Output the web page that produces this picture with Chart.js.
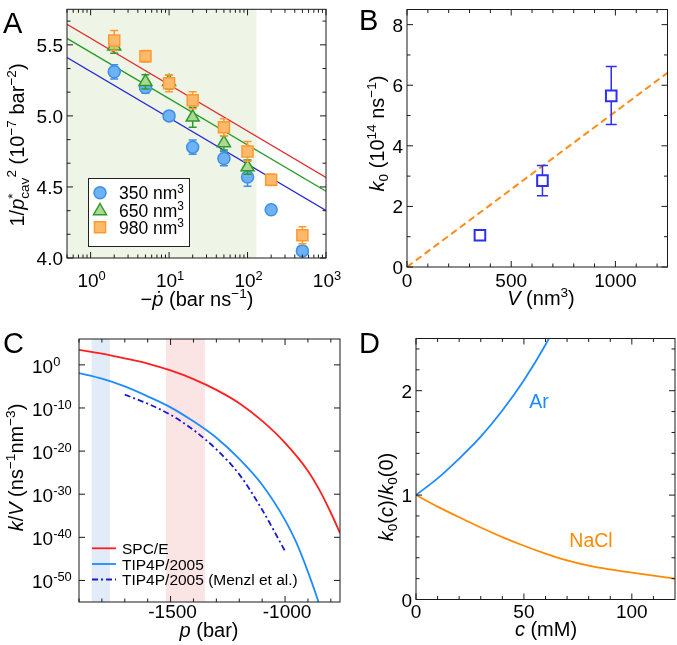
<!DOCTYPE html>
<html>
<head>
<meta charset="utf-8">
<script src="https://cdn.jsdelivr.net/npm/chart.js@4.4.1/dist/chart.umd.min.js"></script>
<style>
  html, body { margin: 0; padding: 0; background: #fff; }
  #wrap { position: relative; width: 677px; height: 645px; overflow: hidden; }
  canvas { position: absolute; left: 0; top: 0; }
</style>
</head>
<body>
<div id="wrap">
  <canvas id="chart-a" width="677" height="645"></canvas>
  <canvas id="chart-b" width="677" height="645"></canvas>
  <canvas id="chart-c" width="677" height="645"></canvas>
  <canvas id="chart-d" width="677" height="645"></canvas>
</div>
<script>
// ---- panel A: 1/p*^2 vs rate ----
const rateAll = [2, 5, 10, 20, 50, 100, 200, 500];
const rate650 = [2, 5, 10, 20, 50, 100];
const inv350 = [5.31, 5.20, 5.00, 4.78, 4.70, 4.57, 4.34, 4.05];
const err350 = [0.05, 0.04, 0.02, 0.05, 0.05, 0.065, 0.03, 0.03];
const inv650 = [5.49, 5.24, 5.24, 4.99, 4.81, 4.64];
const err650 = [0.05, 0.05, 0.05, 0.07, 0.05, 0.05];
const inv980 = [5.53, 5.42, 5.23, 5.11, 4.92, 4.75, 4.55, 4.16];
const err980 = [0.07, 0.04, 0.06, 0.06, 0.06, 0.07, 0.04, 0.06];
const fitRate = [0.5, 1000];
const fit350 = [5.41, 4.335];
const fit650 = [5.545, 4.47];
const fit980 = [5.645, 4.566];
const shadeRate = [0.5, 130];
const aXTicks = [1, 10, 100, 1000];
const aYTicks = [4.0, 4.5, 5.0, 5.5];
const aLegend = ['350 nm', '650 nm', '980 nm'];

// ---- panel B: k0 vs V ----
const volume = [350, 650, 980];
const k0 = [1.05, 2.85, 5.65];
const k0Lo = [0.9, 2.35, 4.7];
const k0Hi = [1.2, 3.35, 6.62];
const fitVol = [0, 1250];
const fitK0 = [0, 6.41];
const bXTicks = [0, 500, 1000];
const bYTicks = [0, 2, 4, 6, 8];

// ---- panel C: k/V vs p (given as log10 of k/V) ----
const spceP = [-1900, -1800, -1700, -1600, -1500, -1400, -1300, -1200, -1100, -1000, -900, -850, -800, -760];
const spceLog = [3.5, 2.6, 1.5, 0.3, -1.3, -3.3, -5.8, -8.9, -13.0, -18.1, -24.6, -29.0, -34.3, -39.0];
const tipP = [-1900, -1800, -1700, -1600, -1500, -1400, -1300, -1200, -1100, -1000, -950, -900, -860, -845];
const tipLog = [-1.9, -3.2, -5.0, -7.3, -9.85, -13.1, -16.9, -21.8, -27.8, -36.0, -41.3, -48.0, -54.0, -56.5];
const menzlP = [-1700, -1600, -1500, -1400, -1300, -1200, -1100, -1000];
const menzlLog = [-6.9, -9.0, -11.6, -15.1, -19.6, -25.4, -33.6, -43.2];
const blueBand = [-1845, -1765];
const pinkBand = [-1520, -1350];
const cXTicks = [-1500, -1000];
const cYExp = [0, -10, -20, -30, -40, -50];
const cLegend = ['SPC/E', 'TIP4P/2005', 'TIP4P/2005 (Menzl et al.)'];

// ---- panel D: k0(c)/k0(0) vs c ----
const arC = [0, 10, 20, 30, 40, 50, 60, 65];
const arK = [1.0, 1.16, 1.35, 1.56, 1.81, 2.1, 2.44, 2.64];
const naclC = [0, 10, 20, 30, 40, 50, 60, 70, 80, 90, 100, 110, 120];
const naclK = [1.0, 0.89, 0.788, 0.69, 0.598, 0.515, 0.44, 0.375, 0.325, 0.288, 0.257, 0.228, 0.2];
const dXTicks = [0, 50, 100];
const dYTicks = [0, 1, 2];

const FONT = '"Liberation Sans", Arial, Helvetica, sans-serif';
const TICK = 19;
const TITLE = 20;

const pts = (xs, ys) => xs.map((x, i) => ({ x, y: ys[i] }));
const N = t => ({ t });
const I = t => ({ t, i: true });
const SUP = t => ({ t, sup: true });
const SUB = t => ({ t, sub: true });
const STACK = (up, dn) => ({ up, dn });

function fontFor(g, size) {
  const small = g.sup || g.sub || g.up !== undefined;
  return (g.i ? 'italic ' : '') + (small ? size * 0.68 : size) + 'px ' + FONT;
}

function segW(ctx, g, size) {
  ctx.font = fontFor(g, size);
  if (g.up !== undefined) return Math.max(ctx.measureText(g.up).width, ctx.measureText(g.dn).width);
  return ctx.measureText(g.t).width;
}

// draws text made of normal / italic / super / subscript parts
function rich(ctx, segs, x, y, size, align = 'left', color = '#000', rot = 0) {
  ctx.save();
  ctx.translate(x, y);
  if (rot) ctx.rotate(rot);
  const w = segs.reduce((s, g) => s + segW(ctx, g, size), 0);
  let cx = align === 'center' ? -w / 2 : align === 'right' ? -w : 0;
  ctx.fillStyle = color;
  ctx.textAlign = 'left';
  ctx.textBaseline = 'alphabetic';
  segs.forEach(g => {
    const gw = segW(ctx, g, size);
    if (g.up !== undefined) {
      ctx.fillText(g.up, cx, -size * 0.36);
      ctx.fillText(g.dn, cx, size * 0.24);
    } else {
      const dy = g.sup ? -size * 0.38 : g.sub ? size * 0.22 : 0;
      ctx.fillText(g.t, cx, dy);
    }
    cx += gw;
  });
  ctx.restore();
}

function letter(ctx, t, x, y) {
  ctx.save();
  ctx.font = '29px ' + FONT;
  ctx.fillStyle = '#000';
  ctx.fillText(t, x, y);
  ctx.restore();
}

function frame(chart, t) {
  const { ctx, chartArea: a, scales: { x, y } } = chart;
  ctx.save();
  ctx.strokeStyle = '#1a1a1a';
  ctx.lineWidth = 1;
  ctx.beginPath();
  const tx = (vals, len) => vals.forEach(v => {
    const px = x.getPixelForValue(v);
    if (px < a.left - 0.5 || px > a.right + 0.5) return;
    ctx.moveTo(px, a.bottom); ctx.lineTo(px, a.bottom - len);
    ctx.moveTo(px, a.top); ctx.lineTo(px, a.top + len);
  });
  const ty = (vals, len) => vals.forEach(v => {
    const py = y.getPixelForValue(v);
    if (py < a.top - 0.5 || py > a.bottom + 0.5) return;
    ctx.moveTo(a.left, py); ctx.lineTo(a.left + len, py);
    ctx.moveTo(a.right, py); ctx.lineTo(a.right - len, py);
  });
  tx(t.xMajor, 6); tx(t.xMinor, 3.5);
  ty(t.yMajor, 6); ty(t.yMinor, 3.5);
  ctx.stroke();
  ctx.strokeRect(a.left, a.top, a.right - a.left, a.bottom - a.top);
  ctx.restore();
}

function panelPlugin(opts) {
  return {
    id: 'panel',
    beforeDatasetsDraw(chart) {
      const { ctx, chartArea: a, scales: { x } } = chart;
      (opts.bands || []).forEach(b => {
        const x1 = Math.max(a.left, x.getPixelForValue(b.range[0]));
        const x2 = Math.min(a.right, x.getPixelForValue(b.range[1]));
        ctx.save();
        ctx.fillStyle = b.color;
        ctx.fillRect(x1, a.top, x2 - x1, a.bottom - a.top);
        ctx.restore();
      });
    },
    beforeDatasetDraw(chart, args) {
      const ds = chart.data.datasets[args.index];
      if (!ds.err) return;
      const { ctx } = chart;
      const y = chart.scales.y;
      const cap = ds.cap || 4;
      ctx.save();
      ctx.strokeStyle = ds.borderColor;
      ctx.lineWidth = 1.5;
      ctx.beginPath();
      args.meta.data.forEach((p, i) => {
        const y1 = y.getPixelForValue(ds.err.lo[i]);
        const y2 = y.getPixelForValue(ds.err.hi[i]);
        ctx.moveTo(p.x, y1); ctx.lineTo(p.x, y2);
        ctx.moveTo(p.x - cap, y1); ctx.lineTo(p.x + cap, y1);
        ctx.moveTo(p.x - cap, y2); ctx.lineTo(p.x + cap, y2);
      });
      ctx.stroke();
      ctx.restore();
    },
    afterDatasetsDraw(chart) {
      frame(chart, opts.ticks);
    },
    afterDraw(chart) {
      opts.labels(chart);
    }
  };
}

function baseOptions(pad, xScale, yScale) {
  return {
    responsive: false,
    animation: false,
    events: [],
    layout: { padding: pad },
    plugins: { legend: { display: false }, tooltip: { enabled: false } },
    scales: { x: Object.assign({ display: false }, xScale), y: Object.assign({ display: false }, yScale) }
  };
}

const sym = (v, e) => ({ lo: v.map((d, i) => d - e[i]), hi: v.map((d, i) => d + e[i]) });
const lineDs = (xs, ys, color, width, extra) => Object.assign({
  data: pts(xs, ys), showLine: true, pointRadius: 0, pointHoverRadius: 0,
  borderColor: color, borderWidth: width, fill: false
}, extra || {});

const minorRange = (from, to, step, skip) => {
  const out = [];
  for (let v = from; v <= to + 1e-9; v += step) {
    const r = Math.round(v * 1000) / 1000;
    if (!skip.some(s => Math.abs(s - r) < 1e-9)) out.push(r);
  }
  return out;
};

// ---------- A ----------
const aXMinor = [];
for (let e = -1; e <= 2; e++) {
  for (let m = 2; m <= 9; m++) {
    const v = m * Math.pow(10, e);
    if (v >= 0.5 && v <= 1000) aXMinor.push(v);
  }
}
const blueA = '#3f8fe6', greenA = '#2e9a2e', orangeA = '#ff9a33';

function drawMarker(ctx, style, x, y, r, fill, stroke) {
  ctx.save();
  ctx.fillStyle = fill;
  ctx.strokeStyle = stroke;
  ctx.lineWidth = 1.5;
  ctx.beginPath();
  if (style === 'circle') ctx.arc(x, y, r, 0, Math.PI * 2);
  else if (style === 'triangle') {
    ctx.moveTo(x, y - r);
    ctx.lineTo(x + r * 0.866, y + r / 2);
    ctx.lineTo(x - r * 0.866, y + r / 2);
    ctx.closePath();
  } else {
    const s = r * Math.SQRT1_2;
    ctx.rect(x - s, y - s, 2 * s, 2 * s);
  }
  ctx.fill();
  ctx.stroke();
  ctx.restore();
}

new Chart(document.getElementById('chart-a'), {
  type: 'scatter',
  data: {
    datasets: [
      { data: pts(rateAll, inv980), pointStyle: 'rect', pointRadius: 7.8, backgroundColor: '#ffb96b', borderColor: orangeA, borderWidth: 1.5, err: sym(inv980, err980), cap: 4, clip: false },
      { data: pts(rate650, inv650), pointStyle: 'triangle', pointRadius: 7.5, backgroundColor: '#abd98f', borderColor: greenA, borderWidth: 1.5, err: sym(inv650, err650), cap: 4, clip: false },
      { data: pts(rateAll, inv350), pointStyle: 'circle', pointRadius: 6, backgroundColor: '#6db2f5', borderColor: blueA, borderWidth: 1.5, err: sym(inv350, err350), cap: 4, clip: false },
      lineDs(fitRate, fit980, '#e02a2a', 1.3),
      lineDs(fitRate, fit650, '#2a9a2a', 1.3),
      lineDs(fitRate, fit350, '#2424d8', 1.3)
    ]
  },
  options: baseOptions({ left: 67, top: 1, right: 351, bottom: 387 },
    { type: 'logarithmic', min: 0.5, max: 1000 },
    { type: 'linear', min: 4, max: 5.75 }),
  plugins: [panelPlugin({
    bands: [{ range: shadeRate, color: '#eef5e7' }],
    ticks: { xMajor: aXTicks, xMinor: aXMinor, yMajor: aYTicks, yMinor: minorRange(4, 5.75, 0.5 / 3, aYTicks) },
    labels(chart) {
      const { ctx, scales: { x, y } } = chart;
      aYTicks.forEach(v => rich(ctx, [N(v.toFixed(1))], 63, y.getPixelForValue(v) + 7, TICK, 'right'));
      aXTicks.forEach(v => rich(ctx, [N('10'), SUP(String(Math.round(Math.log10(v))))], x.getPixelForValue(v) + 1, 287, TICK, 'center'));
      rich(ctx, [N('−'), I('ṗ'), N(' (bar ns'), SUP('−1'), N(')')], 197, 306, TITLE, 'center');
      rich(ctx, [N('1/'), I('p'), STACK('*', 'cav'), SUP('2'), N(' (10'), SUP('−7'), N(' bar'), SUP('−2'), N(')')],
        24, 145, TITLE, 'center', '#000', -Math.PI / 2);
      letter(ctx, 'A', 3, 33);
      // legend box
      ctx.save();
      ctx.fillStyle = '#fff';
      ctx.strokeStyle = '#222';
      ctx.lineWidth = 1;
      ctx.fillRect(88, 178, 101, 68);
      ctx.strokeRect(88.5, 178.5, 101, 68);
      ctx.restore();
      const rows = [192.7, 210, 227.3];
      drawMarker(ctx, 'circle', 100, rows[0], 6, '#6db2f5', blueA);
      drawMarker(ctx, 'triangle', 100, rows[1] + 1, 7.5, '#abd98f', greenA);
      drawMarker(ctx, 'rect', 100, rows[2], 7.8, '#ffb96b', orangeA);
      aLegend.forEach((t, i) => rich(ctx, [N(t), SUP('3')], 119, rows[i] + 6.5, 17.5));
    }
  })]
});

// ---------- B ----------
const blueB = '#2f2ff2';
new Chart(document.getElementById('chart-b'), {
  type: 'scatter',
  data: {
    datasets: [
      { data: pts(volume, k0), pointStyle: 'rect', pointRadius: 7.5, backgroundColor: '#fff', borderColor: blueB, borderWidth: 2, err: { lo: k0Lo, hi: k0Hi }, cap: 5.5, clip: false },
      lineDs(fitVol, fitK0, '#ff8c1a', 2, { borderDash: [7, 4] })
    ]
  },
  options: baseOptions({ left: 407, top: 1, right: 2, bottom: 378 },
    { type: 'linear', min: 0, max: 1250 },
    { type: 'linear', min: 0, max: 8.5 }),
  plugins: [panelPlugin({
    ticks: { xMajor: bXTicks, xMinor: minorRange(0, 1200, 100, bXTicks), yMajor: bYTicks, yMinor: minorRange(1, 7, 2, []) },
    labels(chart) {
      const { ctx, scales: { x, y } } = chart;
      bYTicks.forEach(v => rich(ctx, [N(String(v))], 403, y.getPixelForValue(v) + 7, TICK, 'right'));
      bXTicks.forEach(v => rich(ctx, [N(String(v))], x.getPixelForValue(v), 287, TICK, 'center'));
      rich(ctx, [I('V'), N(' (nm'), SUP('3'), N(')')], 541, 305, TITLE, 'center');
      rich(ctx, [I('k'), SUB('0'), N(' (10'), SUP('14'), N(' ns'), SUP('−1'), N(')')],
        384, 133.5, TITLE, 'center', '#000', -Math.PI / 2);
      letter(ctx, 'B', 359, 30);
    }
  })]
});

// ---------- C ----------
const redC = '#ff1f1f', blueC = '#1e8cff', navyC = '#1818d2';
const pow10 = arr => arr.map(e => Math.pow(10, e));
new Chart(document.getElementById('chart-c'), {
  type: 'scatter',
  data: {
    datasets: [
      lineDs(spceP, pow10(spceLog), redC, 1.8, { cubicInterpolationMode: 'monotone' }),
      lineDs(tipP, pow10(tipLog), blueC, 1.8, { cubicInterpolationMode: 'monotone' }),
      lineDs(menzlP, pow10(menzlLog), navyC, 1.8, { cubicInterpolationMode: 'monotone', borderDash: [6, 3, 2, 3] })
    ]
  },
  options: baseOptions({ left: 79, top: 339, right: 337, bottom: 43 },
    { type: 'linear', min: -1900, max: -760 },
    { type: 'logarithmic', min: 1e-55, max: 1e6 }),
  plugins: [panelPlugin({
    bands: [{ range: blueBand, color: '#e2ecf8' }, { range: pinkBand, color: '#fbe4e4' }],
    ticks: { xMajor: cXTicks, xMinor: minorRange(-1900, -800, 100, cXTicks), yMajor: pow10(cYExp), yMinor: [] },
    labels(chart) {
      const { ctx, scales: { x, y } } = chart;
      cYExp.forEach(e => rich(ctx, [N('10'), SUP(String(e))], 32, y.getPixelForValue(Math.pow(10, e)) + 8, TICK));
      cXTicks.forEach(v => rich(ctx, [N(String(v))], x.getPixelForValue(v) + 2, 618, TICK, 'center'));
      rich(ctx, [I('p'), N(' (bar)')], 209, 637, TITLE, 'center');
      rich(ctx, [I('k'), N('/'), I('V'), N(' (ns'), SUP('−1'), N('nm'), SUP('−3'), N(')')],
        23, 467.5, TITLE, 'center', '#000', -Math.PI / 2);
      letter(ctx, 'C', 3, 353);
      const rows = [548.3, 564, 579.5];
      const cols = [redC, blueC, navyC];
      rows.forEach((ry, i) => {
        ctx.save();
        ctx.strokeStyle = cols[i];
        ctx.lineWidth = 1.8;
        if (i === 2) ctx.setLineDash([6, 3, 2, 3]);
        ctx.beginPath();
        ctx.moveTo(92, ry); ctx.lineTo(116, ry);
        ctx.stroke();
        ctx.restore();
        rich(ctx, [N(cLegend[i])], 122, ry + 5.5, 15.5);
      });
    }
  })]
});

// ---------- D ----------
const blueD = '#1e8cff', orangeD = '#ff8a00';
new Chart(document.getElementById('chart-d'), {
  type: 'scatter',
  data: {
    datasets: [
      lineDs(arC, arK, blueD, 1.8, { cubicInterpolationMode: 'monotone' }),
      lineDs(naclC, naclK, orangeD, 1.8, { cubicInterpolationMode: 'monotone' })
    ]
  },
  options: baseOptions({ left: 416, top: 338.5, right: 2, bottom: 45.5 },
    { type: 'linear', min: 0, max: 120 },
    { type: 'linear', min: 0, max: 2.5 }),
  plugins: [panelPlugin({
    ticks: { xMajor: dXTicks, xMinor: minorRange(10, 110, 10, dXTicks), yMajor: dYTicks, yMinor: minorRange(0.2, 2.4, 0.2, dYTicks) },
    labels(chart) {
      const { ctx, scales: { x, y } } = chart;
      dYTicks.forEach(v => rich(ctx, [N(String(v))], 412, y.getPixelForValue(v) + 7, TICK, 'right'));
      dXTicks.forEach(v => rich(ctx, [N(String(v))], x.getPixelForValue(v), 618, TICK, 'center'));
      rich(ctx, [I('c'), N(' (mM)')], 546, 636, TITLE, 'center');
      rich(ctx, [I('k'), SUB('0'), N('('), I('c'), N(')/'), I('k'), SUB('0'), N('(0)')],
        393, 497, TITLE, 'center', '#000', -Math.PI / 2);
      letter(ctx, 'D', 359, 353);
      rich(ctx, [N('Ar')], 539, 408, 19.5, 'center', blueD);
      rich(ctx, [N('NaCl')], 591, 547, 19.5, 'center', orangeD);
    }
  })]
});
</script>
</body>
</html>
